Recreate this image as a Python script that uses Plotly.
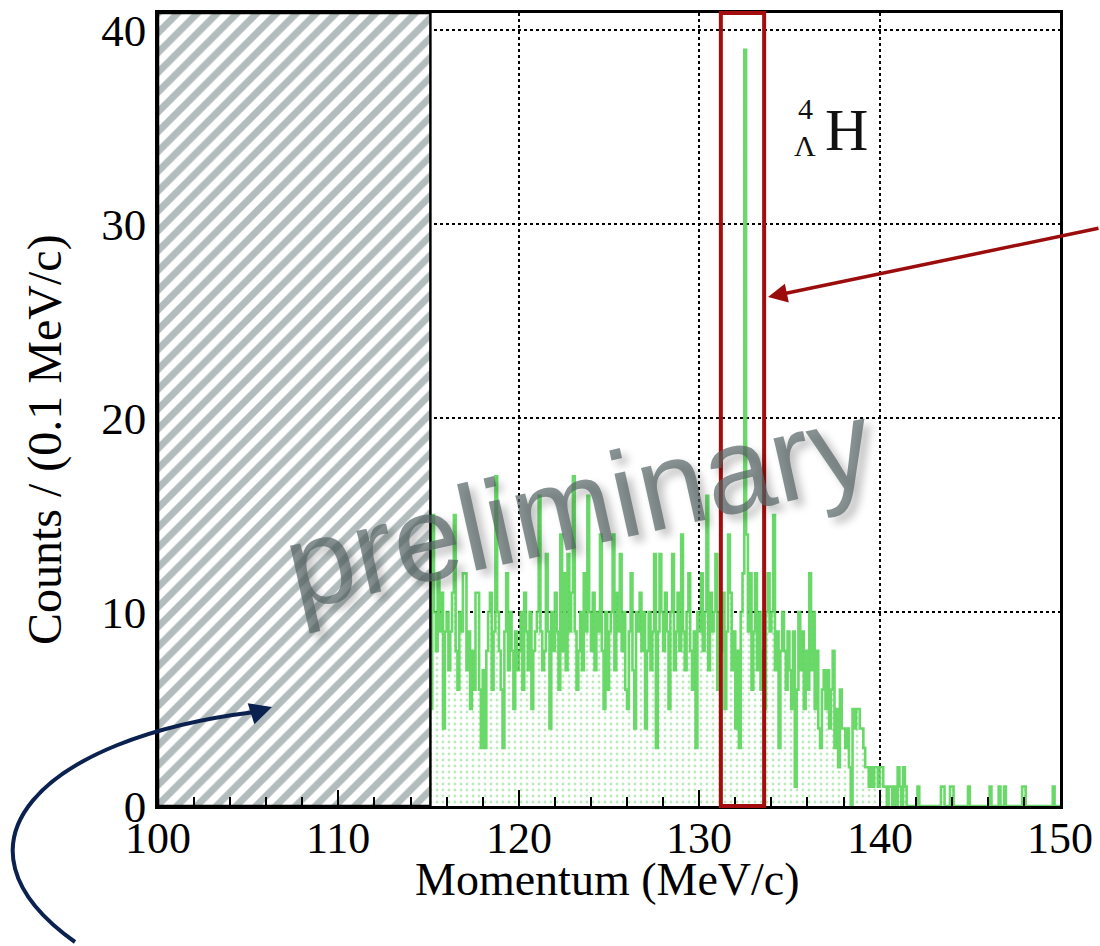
import numpy as np
import plotly.graph_objects as go

# ---------------- data ----------------
bin_start = 115.0   # MeV/c
bin_width = 0.1     # MeV/c
counts = [
    9, 5, 15, 10, 8, 12, 9, 11, 4, 9,
    10, 7, 9, 11, 15, 8, 6, 10, 9, 12,
    12, 7, 9, 5, 8, 6, 11, 11, 6, 3,
    7, 3, 8, 10, 11, 6, 9, 17, 10, 8,
    6, 3, 9, 12, 7, 10, 8, 5, 9, 7,
    8, 10, 6, 11, 9, 7, 10, 5, 8, 9,
    10, 16, 9, 7, 8, 13, 9, 4, 10, 8,
    11, 9, 6, 14, 8, 12, 7, 13, 9, 11,
    17, 9, 6, 8, 10, 7, 12, 9, 16, 10,
    8, 11, 7, 10, 9, 14, 8, 5, 10, 6,
    9, 10, 14, 7, 11, 9, 13, 8, 10, 6,
    5, 9, 12, 7, 4, 10, 9, 11, 8, 10,
    4, 8, 10, 7, 9, 13, 3, 9, 13, 10,
    8, 11, 9, 5, 10, 13, 7, 9, 11, 8,
    14, 9, 7, 10, 12, 8, 6, 9, 3, 10,
    9, 12, 8, 10, 16, 7, 11, 9, 10, 13,
    6, 10, 8, 11, 5, 9, 14, 11, 7, 9,
    4, 8, 3, 10, 12, 39, 14, 9, 12, 6,
    9, 12, 7, 10, 6, 8, 5, 10, 12, 9,
    10, 15, 7, 9, 3, 8, 10, 8, 6, 9,
    7, 5, 9, 1, 6, 10, 7, 9, 5, 8,
    6, 12, 7, 10, 5, 8, 4, 3, 6, 7,
    5, 7, 4, 6, 8, 3, 5, 2, 6, 4,
    4, 3, 4, 2, 0, 5, 4, 5, 5, 4,
    4, 3, 2, 2, 1, 2, 1, 2, 2, 1,
    2, 2, 1, 1, 0, 1, 1, 0, 1, 0,
    2, 1, 0, 2, 1, 0, 0, 0, 0, 0,
    0, 1, 0, 0, 0, 0, 0, 0, 0, 0,
    0, 0, 0, 0, 1, 1, 0, 0, 0, 1,
    1, 0, 0, 0, 0, 0, 0, 0, 0, 1,
    0, 0, 0, 0, 0, 0, 0, 0, 0, 0,
    0, 1, 0, 0, 0, 0, 1, 0, 0, 1,
    0, 0, 0, 0, 0, 0, 0, 0, 0, 1,
    1, 0, 0, 0, 0, 0, 0, 0, 0, 0,
    0, 0, 0, 0, 0, 0, 1, 0, 0, 0,
]
excluded_range = [100.0, 115.1]     # hatched (excluded) momentum region
signal_window = [131.2, 133.6]      # red box around the hypernucleus peak
x_range = [100, 150]
y_range = [0, 40.9]
x_ticks = [100, 110, 120, 130, 140, 150]
y_ticks = [0, 10, 20, 30, 40]

# ---------------- layout geometry ----------------
W, H = 1100, 946
L, R, T, B = 158, 40, 13, 140
pw, ph = W - L - R, H - T - B


def px(xp):
    return (xp - L) / pw


def py(yp):
    return (H - B - yp) / ph


SERIF = "Liberation Serif"
GREEN = "rgba(80,210,80,0.85)"

edges = bin_start + bin_width * np.arange(len(counts) + 1)
xs = np.concatenate([[edges[0]], edges])
ys = np.concatenate([[0], counts, [counts[-1]]])

fig = go.Figure()

# histogram
fig.add_trace(go.Scatter(
    x=xs, y=ys, mode="lines", line=dict(shape="hv", color=GREEN, width=2.6),
    fill="tozeroy",
    fillpattern=dict(shape=".", fgcolor="#78d878", bgcolor="white", size=6, solidity=0.18),
    showlegend=False, hoverinfo="skip",
))

# hatched excluded region
ex0, ex1 = excluded_range
fig.add_trace(go.Scatter(
    x=[ex0, ex1, ex1, ex0, ex0], y=[y_range[0], y_range[0], y_range[1], y_range[1], y_range[0]],
    mode="lines", fill="toself", line=dict(color="black", width=2.5),
    fillpattern=dict(shape="/", fgcolor="#667a7a", bgcolor="white", size=14, solidity=0.5),
    showlegend=False, hoverinfo="skip",
))

fig.update_layout(
    width=W, height=H,
    margin=dict(l=L, r=R, t=T, b=B, autoexpand=False),
    paper_bgcolor="white", plot_bgcolor="white",
    font=dict(family=SERIF, color="black", size=46),
    xaxis=dict(
        range=x_range, tickvals=x_ticks, ticks="inside", ticklen=16, tickwidth=2,
        tickcolor="black", showticklabels=False,
        minor=dict(dtick=2, ticks="inside", ticklen=9, tickwidth=2, tickcolor="black", showgrid=False),
        showline=True, linecolor="black", linewidth=2.5, mirror=True,
        showgrid=True, gridcolor="black", griddash="dot", gridwidth=1.5,
        zeroline=False, automargin=False,
    ),
    yaxis=dict(
        range=y_range, tickvals=y_ticks, ticks="",
        showline=True, linecolor="black", linewidth=2.5, mirror=True,
        showgrid=True, gridcolor="black", griddash="dot", gridwidth=1.5,
        tickfont=dict(family=SERIF, size=45), zeroline=False, automargin=False,
    ),
)

# x tick labels (placed just under the axis, as in the reference)
for xv in x_ticks:
    fig.add_annotation(text=str(xv), xref="x", yref="paper", x=xv, y=py(838),
                       xanchor="center", yanchor="middle", showarrow=False,
                       font=dict(family=SERIF, size=44, color="black"))

# signal window box
fig.add_shape(type="rect", xref="x", yref="paper", x0=signal_window[0], x1=signal_window[1],
              y0=0, y1=1, line=dict(color="#a30d0d", width=4))


def label(text, xp, yp, size, color="black", family=SERIF, angle=0, **kw):
    fig.add_annotation(text=text, xref="paper", yref="paper", x=px(xp), y=py(yp),
                       xanchor="center", yanchor="middle", showarrow=False, textangle=angle,
                       font=dict(family=family, size=size, color=color, **kw))


# axis titles
label("Momentum (MeV/c)", 607, 879, 46)
label("Counts / (0.1 MeV/c)", 45, 440, 48, angle=-90)

# hypernucleus label
label("H", 846, 130, 60, color="#111")
label("4", 805, 108, 30, color="#111")
label("Λ", 805, 145, 30, color="#111")

# red arrow
fig.add_annotation(x=px(768), y=py(297), xref="paper", yref="paper",
                   ax=1100 - 768, ay=228 - 297, axref="pixel", ayref="pixel",
                   showarrow=True, arrowhead=2, arrowsize=1.1, arrowwidth=3.5,
                   arrowcolor="#9b0d0d", text="")

# preliminary watermark
label("preliminary", 578, 505, 122, color="rgba(85,100,100,0.7)",
      family="Liberation Sans", angle=-12.5, shadow="5px 7px 8px rgba(0,0,0,0.35)")

# blue curved arrow
pts = [(75, 942), (-62, 845), (40, 738), (255, 712)]
path = "M {} {} C {} {}, {} {}, {} {}".format(*sum([[px(a), py(b)] for a, b in pts], []))
fig.add_shape(type="path", xref="paper", yref="paper", path=path,
              line=dict(color="#0b2250", width=4))
fig.add_annotation(x=px(272), y=py(707), xref="paper", yref="paper",
                   ax=-22, ay=7, axref="pixel", ayref="pixel",
                   showarrow=True, arrowhead=2, arrowsize=1.1, arrowwidth=4,
                   arrowcolor="#0b2250", text="")

fig.write_html("out.html")
